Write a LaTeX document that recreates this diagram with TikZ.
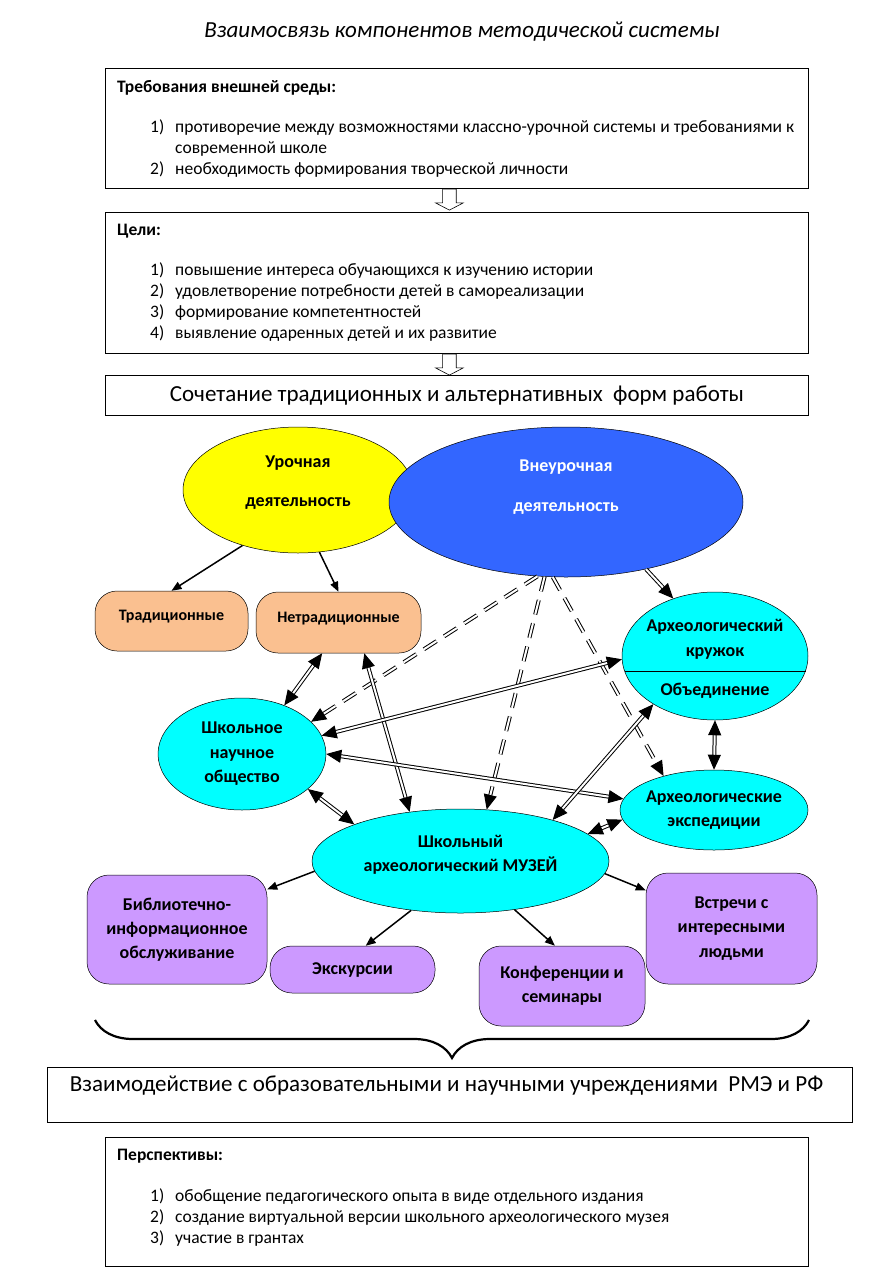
\documentclass[tikz,border=0pt]{standalone}
\usepackage{fontspec}
\setmainfont{Carlito}
\usetikzlibrary{shapes.geometric, shapes.arrows, arrows.meta, positioning, calc, decorations.pathreplacing}
\definecolor{yellowA}{HTML}{FFFF00}
\definecolor{blueA}{HTML}{3366FF}
\definecolor{peachA}{HTML}{FAC090}
\definecolor{cyanA}{HTML}{00FFFF}
\definecolor{violetA}{HTML}{CC99FF}

\begin{document}
\begin{tikzpicture}[x=1pt, y=-1pt,
  framebox/.style={
    draw, line width=0.8pt, anchor=north west,
    minimum width=703pt, inner sep=0pt
  },
  headtext/.style={anchor=base west, inner sep=0pt,
    font=\fontsize{17.5}{21}\selectfont\bfseries},
  itemtext/.style={anchor=base west, inner sep=0pt,
    font=\fontsize{17.5}{21}\selectfont},
  oval/.style={
    ellipse, draw=black, line width=0.5pt, fill=#1,
    font=\fontsize{18}{22}\selectfont\bfseries, align=center, inner sep=0pt
  },
  tile/.style={
    draw=black, line width=0.5pt, fill=#1, rounded corners=22pt,
    font=\fontsize{18}{22}\selectfont\bfseries, align=center, inner sep=0pt
  },
  hollow/.style={
    single arrow, draw, line width=0.6pt, fill=white,
    shape border rotate=270, minimum height=21pt, inner sep=6.5pt,
    single arrow head extend=7pt, single arrow tip angle=125
  },
  arr/.style={-{Triangle[length=10pt, width=8pt]}, line width=1.5pt},
  link/.style={{Triangle[length=15pt, width=13pt]}-{Triangle[length=15pt, width=13pt]},
    double, double distance=2pt, line width=1pt},
  dlink/.style={-{Triangle[length=15pt, width=13pt]},
    double, double distance=2pt, line width=1pt, dash pattern=on 15pt off 9pt},
]
\path[fill=white] (0,0) rectangle (875,1278);
\useasboundingbox (0,0) rectangle (875,1278);

%% --- заголовок ---
\node[font=\fontsize{23}{26}\selectfont\itshape] (title) at (462,32)
  {Взаимосвязь компонентов методической системы};

%% --- требования внешней среды ---
\node[framebox, minimum height=120pt] (env) at (105,68) {};
\node[headtext] (envH) at (117,92) {Требования внешней среды:};
\node[itemtext] (envN1) at (150,132) {1)};
\node[itemtext] (env1) at (175,132)
  {противоречие между возможностями классно-урочной системы и требованиями к};
\node[itemtext] (env1b) at (175,153) {современной школе};
\node[itemtext] (envN2) at (150,174) {2)};
\node[itemtext] (env2) at (175,174) {необходимость формирования творческой личности};

\node[hollow, anchor=tail] (down1) at ([xshift=-7.5pt]env.south) {};

%% --- цели ---
\node[framebox, minimum height=141pt] (goals) at (105,212) {};
\node[headtext] (goalsH) at (117,235) {Цели:};
\foreach \n/\yy/\t in {1/275/повышение интереса обучающихся к изучению истории,
                       2/296/удовлетворение потребности детей в самореализации,
                       3/317/формирование компетентностей,
                       4/338/выявление одаренных детей и их развитие}
{
  \node[itemtext] (goalN\n) at (150,\yy) {\n)};
  \node[itemtext] (goal\n) at (175,\yy) {\t};
}

\node[hollow, anchor=tail] (down2) at ([xshift=-7.5pt]goals.south) {};

%% --- формы работы ---
\node[framebox, minimum height=40pt, font=\fontsize{23}{26}\selectfont] (forms) at (105,375)
  {Сочетание традиционных и альтернативных \ форм работы};

%% --- деятельность ---
\node[oval=yellowA, minimum width=230pt, minimum height=126pt, text depth=18.6pt] (lesson) at (298,490)
  {Урочная\\[17pt]деятельность};
\node[oval=blueA, text=white, minimum width=354pt, minimum height=150pt, text depth=33.6pt] (extra) at (566,502)
  {Внеурочная\\[18pt]деятельность};

\node[tile=peachA, minimum width=153pt, minimum height=60pt, text depth=11pt,
  font=\fontsize{16}{19}\selectfont\bfseries] (trad) at (171.5,621) {Традиционные};
\node[tile=peachA, minimum width=165pt, minimum height=61pt, text depth=11pt,
  font=\fontsize{16}{19}\selectfont\bfseries] (nontrad) at (338.5,622.5) {Нетрадиционные};

\draw[arr] (lesson.225) -- (trad.north);
\draw[arr] (lesson.289) -- (nontrad.north);

%% --- объединения ---
\node[oval=cyanA, minimum width=186pt, minimum height=128pt] (club) at (715,656) {};
\draw[line width=0.6pt] ($(club.center)+(-90.5,15)$) -- ($(club.center)+(90.5,15)$);
\node[font=\fontsize{18}{22}\selectfont\bfseries, align=center, inner sep=0pt] (clubT)
  at ([yshift=16.5pt]club.center) {Археологический\\[3pt]кружок};
\node[font=\fontsize{18}{22}\selectfont\bfseries, inner sep=0pt] (clubB)
  at ([yshift=-35pt]club.center) {Объединение};

\node[oval=cyanA, minimum width=168pt, minimum height=112pt] (society) at (242,754)
  {Школьное\\[2.5pt]научное\\[2.5pt]общество};
\node[oval=cyanA, minimum width=188pt, minimum height=80pt, inner xsep=-8pt] (exped) at (714,810)
  {Археологические\\[2pt]экспедиции};
\node[oval=cyanA, minimum width=297pt, minimum height=104pt, text depth=15.6pt] (museum) at (460.5,861)
  {Школьный\\[2pt]археологический МУЗЕЙ};

%% --- связи ---
\draw[dlink] (extra.249) -- (society.25);
\draw[dlink] (extra.254) -- (museum.63);
\draw[dlink] (extra.260) -- (exped.146);
\draw[link, -{Triangle[length=15pt, width=13pt]}] (extra.320) -- (club.126);

\draw[link] (nontrad.242) -- (society.49);
\draw[link] (nontrad.310) -- (museum.136);
\draw[link] (society.13) -- (club.182);
\draw[link] (society.0) -- (exped.173);
\draw[link] (museum.24) -- (club.218);
\draw[link] (society.332) -- (museum.161);
\draw[link] (museum.12) -- (exped.186);
\draw[link] (club.south) -- (exped.north);

%% --- формы музея ---
\node[tile=violetA, minimum width=180pt, minimum height=109pt] (lib) at (177,929.5)
  {Библиотечно-\\[2pt]информационное\\[2pt]обслуживание};
\node[tile=violetA, minimum width=165pt, minimum height=47pt] (exc) at (352.5,969.5)
  {Экскурсии};
\node[tile=violetA, minimum width=166pt, minimum height=80pt] (conf) at (562,986)
  {Конференции и\\[2pt]семинары};
\node[tile=violetA, minimum width=171pt, minimum height=111pt] (meet) at (731.5,928.5)
  {Встречи с\\[2.5pt]интересными\\[2.5pt]людьми};

\draw[arr] (museum.184) -- (lib.24);
\draw[arr] (museum.225) -- (exc.61);
\draw[arr] (museum.318) -- (conf.100);
\draw[arr] (museum.355) -- (meet.156);

%% --- скобка ---
\coordinate (braceL) at (95,1020);
\coordinate (braceR) at (809,1020);
\draw[line width=2.2pt, decorate, decoration={brace, mirror, amplitude=38pt}] (braceL) -- (braceR);

%% --- взаимодействие ---
\node[framebox, minimum width=805pt, minimum height=55pt] (inter) at (47,1067) {};
\node[font=\fontsize{23}{26}\selectfont, inner sep=0pt] (interT) at (446.5,1086)
  {Взаимодействие с образовательными и научными учреждениями \ РМЭ и РФ};

%% --- перспективы ---
\node[framebox, minimum height=129pt] (persp) at (105,1137) {};
\node[headtext] (perspH) at (117,1160) {Перспективы:};
\foreach \n/\yy/\t in {1/1201/обобщение педагогического опыта в виде отдельного издания,
                       2/1222/создание виртуальной версии школьного археологического музея,
                       3/1243/участие в грантах}
{
  \node[itemtext] (perspN\n) at (150,\yy) {\n)};
  \node[itemtext] (persp\n) at (175,\yy) {\t};
}

\end{tikzpicture}
\end{document}
